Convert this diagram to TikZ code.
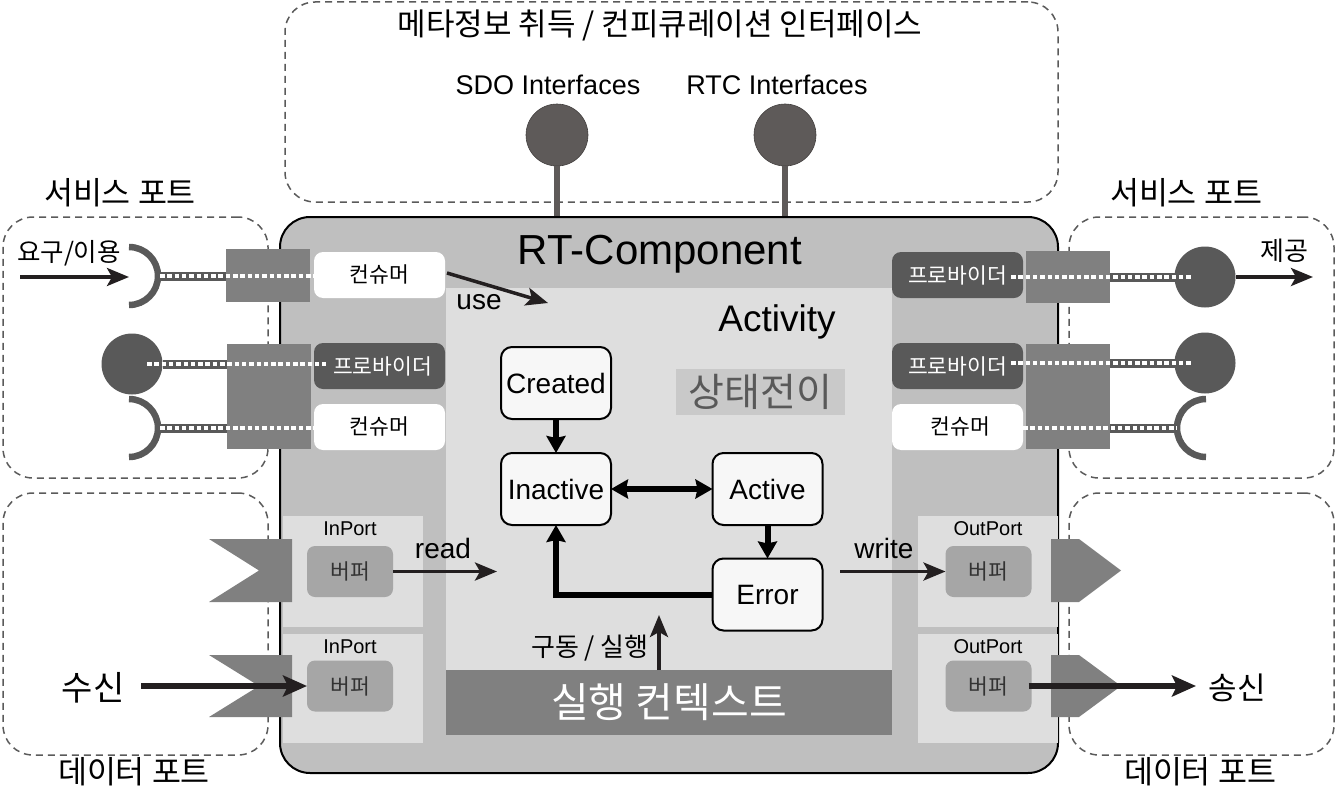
\documentclass[tikz,border=0pt]{standalone}
\usepackage{fontspec}
\setmainfont{Liberation Sans}
\newfontfamily\kr{Noto Sans CJK KR}
\usetikzlibrary{arrows.meta}
\newcommand\fsz[1]{\fontsize{#1pt}{#1pt}\selectfont}
\definecolor{mainfill}{HTML}{BFBFBF}
\definecolor{lightfill}{HTML}{DEDEDE}
\definecolor{portgray}{HTML}{808080}
\definecolor{darkc}{HTML}{595959}
\definecolor{bufgray}{HTML}{A6A6A6}
\definecolor{statefill}{HTML}{F7F7F7}
\definecolor{lollic}{HTML}{5E5A59}
\definecolor{dashc}{HTML}{5A5A5A}
\definecolor{arrowc}{HTML}{231F20}
\definecolor{stbox}{HTML}{C9C9C9}
\begin{document}
\begin{tikzpicture}[x=1pt,y=-1pt,
  every node/.style={inner sep=0pt,outer sep=0pt},
  dashbox/.style={draw=dashc,line width=1.5pt,dash pattern=on 7pt off 5pt,rounded corners=30pt},
  krlab/.style={font=\kr\fsz{#1}},
  enlab/.style={font=\fsz{#1}},
  lolli/.style={circle,fill=lollic,draw=lollic!70!black,line width=0.6pt,minimum size=62pt},
  stick/.style={draw=lollic,line width=6pt},
  lightbox/.style={fill=lightfill},
  buf/.style={fill=bufgray,rounded corners=8pt,minimum width=86pt,minimum height=51pt,font=\kr\fsz{21.5},text=black!80},
  psq/.style={fill=portgray,minimum width=84pt},
  consbox/.style={fill=white,rounded corners=9pt,minimum width=131pt,minimum height=46pt,font=\kr\fsz{21.5}},
  provbox/.style={fill=darkc,rounded corners=9pt,minimum width=131pt,minimum height=46pt,font=\kr\fsz{21.5},text=white},
  pcircle/.style={circle,fill=darkc,minimum size=61pt},
  sock/.style={draw=darkc,line width=6.5pt},
  darkbar/.style={draw=darkc,line width=9pt},
  wdots/.style={draw=white,line width=4.5pt,dash pattern=on 4.5pt off 2.8pt},
  statebox/.style={draw=black,line width=2pt,fill=statefill,rounded corners=11pt,minimum width=110pt,minimum height=72pt,font=\fsz{28}},
  sarrow/.style={draw=black,line width=6pt,-{Stealth[length=17pt,width=19pt,inset=2pt]}},
  tarrow/.style={draw=arrowc,line width=3.5pt,-{Stealth[length=22pt,width=18pt,inset=5pt]}},
  bigarrow/.style={draw=arrowc,line width=5.5pt,-{Stealth[length=24pt,width=21pt,inset=5pt]}}
]
\useasboundingbox (0,0) rectangle (1336,800);

% dashed regions
\node[dashbox,minimum width=773pt,minimum height=200pt] (metabox) at (671.5,102) {};
\node[dashbox,minimum width=265pt,minimum height=261pt] (svcL) at (135.5,347.5) {};
\node[dashbox,minimum width=265pt,minimum height=262pt] (datL) at (135.5,624) {};
\node[dashbox,minimum width=265pt,minimum height=261pt] (svcR) at (1201.5,347.5) {};
\node[dashbox,minimum width=265pt,minimum height=262pt] (datR) at (1201.5,624) {};

% labels of regions
\node[krlab=31] (metatitle) at (660,25) {메타정보 취득 / 컨피큐레이션 인터페이스};
\node[enlab=27] (sdolab) at (548,85) {SDO Interfaces};
\node[enlab=27] (rtclab) at (777,85) {RTC Interfaces};
\node[krlab=31.5] (svcLlab) at (120,193) {서비스 포트};
\node[krlab=31.5] (svcRlab) at (1186,193) {서비스 포트};
\node[krlab=31.5] (datLlab) at (134,772) {데이터 포트};
\node[krlab=31.5] (datRlab) at (1200,772) {데이터 포트};

% lollipops
\node[lolli] (sdoc) at (557,135) {};
\node[lolli] (rtcc) at (785,135) {};
\coordinate (sdofoot) at (557,220);
\coordinate (rtcfoot) at (785,220);
\draw[stick] (sdoc.south) -- (sdofoot);
\draw[stick] (rtcc.south) -- (rtcfoot);

% main component
\node[draw=black,line width=2pt,fill=mainfill,rounded corners=30pt,minimum width=778pt,minimum height=556pt] (rtcbox) at (669,495) {};
\node[lightbox,minimum width=446pt,minimum height=447pt] (actarea) at (669,511.5) {};
\node[enlab=42] (rtctitle) at (660,254) {RT-Component};
\node[enlab=37] (actlab) at (777,322) {Activity};
\node[fill=stbox,minimum width=169pt,minimum height=46pt,font=\kr\fsz{39},text=black!65] (stlab) at (760.5,392) {상태전이};

% in / out port areas
\node[lightbox,minimum width=140pt,minimum height=111pt] (inp1) at (353,571.5) {};
\node[lightbox,minimum width=140pt,minimum height=109pt] (inp2) at (353,688.5) {};
\node[lightbox,minimum width=140pt,minimum height=111pt] (outp1) at (988,571.5) {};
\node[lightbox,minimum width=140pt,minimum height=109pt] (outp2) at (988,688.5) {};
\node[enlab=20] (inp1lab) at (350,529) {InPort};
\node[enlab=20] (inp2lab) at (350,647) {InPort};
\node[enlab=20] (outp1lab) at (988,529) {OutPort};
\node[enlab=20] (outp2lab) at (988,647) {OutPort};
\node[buf] (ibuf1) at (350,571.5) {버퍼};
\node[buf] (ibuf2) at (350,686) {버퍼};
\node[buf] (obuf1) at (988.5,571.5) {버퍼};
\node[buf] (obuf2) at (988.5,686) {버퍼};

% data port flags
\fill[portgray] (209,539) -- (292,539) -- (292,602) -- (209,602) -- (259,570.5) -- cycle;
\fill[portgray] (209,655) -- (292,655) -- (292,717) -- (209,717) -- (259,686) -- cycle;
\fill[portgray] (1051,539) -- (1079,539) -- (1121,570.5) -- (1079,602) -- (1051,602) -- cycle;
\fill[portgray] (1051,655) -- (1079,655) -- (1121,686) -- (1079,717) -- (1051,717) -- cycle;

% execution context
\node[fill=portgray,minimum width=446pt,minimum height=65pt,text=white,font=\kr\fsz{41}] (exec) at (669,702.5) {실행 컨텍스트};

% states
\node[statebox] (created) at (556,383) {Created};
\node[statebox] (inactive) at (556,489) {Inactive};
\node[statebox] (active) at (767.5,489) {Active};
\node[statebox] (error) at (767.5,594.5) {Error};
\draw[sarrow] (created) -- (inactive);
\draw[sarrow,{Stealth[length=17pt,width=19pt,inset=2pt]}-{Stealth[length=17pt,width=19pt,inset=2pt]}] (inactive) -- (active);
\draw[sarrow] (active) -- (error);
\draw[sarrow] (error.west) -| (inactive.south);

% drive arrow
\coordinate (drvtip) at (659,615);
\draw[tarrow] (exec.north -| drvtip) -- (drvtip);
\node[krlab=26] (drvlab) at (590,648) {구동 / 실행};

% read / write
\coordinate (readtip) at (497,571.5);
\draw[tarrow] (ibuf1.east) -- (readtip);
\node[enlab=28] (readlab) at (443,548) {read};
\coordinate (writestart) at (840,571.5);
\draw[tarrow] (writestart) -- (obuf1.west);
\node[enlab=28] (writelab) at (884,548) {write};

% receive / send
\node[krlab=34] (rxlab) at (93,688) {수신};
\coordinate (rxstart) at (141,686);
\draw[bigarrow] (rxstart) -- (ibuf2.west);
\node[krlab=31] (txlab) at (1237,688) {송신};
\coordinate (txtip) at (1196,686);
\draw[bigarrow] ([xshift=-3pt]obuf2.east) -- (txtip);

% left service ports
\node[psq,minimum height=53pt] (lsq1) at (268,275.5) {};
\node[psq,minimum height=105pt] (lsq2) at (269,396.5) {};
\node[consbox] (lcons1) at (379.5,275) {컨슈머};
\node[provbox] (lprov) at (379.5,366) {\hspace{6pt}프로바이더};
\node[consbox] (lcons2) at (379.5,427) {컨슈머};
\coordinate (lsock1c) at (129,276);
\coordinate (lsock2c) at (129,428);
\node[pcircle] (lprovc) at (132,364) {};
\draw[sock] ([yshift=29pt]lsock1c) arc[start angle=90,end angle=-90,radius=29pt];
\draw[sock] ([yshift=29pt]lsock2c) arc[start angle=90,end angle=-90,radius=29pt];
\draw[darkbar] ([xshift=29pt]lsock1c) -- (lsq1.west |- lsock1c);
\draw[darkbar] (lprovc.east) -- (lsq2.west |- lprovc);
\draw[darkbar] ([xshift=29pt]lsock2c) -- (lsq2.west |- lsock2c);
\draw[wdots] ([xshift=31pt]lsock1c) -- (lcons1.west |- lsock1c);
\draw[wdots] ([xshift=15pt]lprovc.center) -- ([xshift=12pt]lprov.west |- lprovc);
\draw[wdots] ([xshift=31pt]lsock2c) -- (lcons2.west |- lsock2c);
\coordinate (reqstart) at (20,277);
\draw[tarrow] (reqstart) -- ([yshift=-1pt]lsock1c);
\node[krlab=25.5] (reqlab) at (69,253) {요구/이용};
\coordinate (usetip) at (548,303);
\draw[tarrow] ([xshift=2pt,yshift=2pt]lcons1.east) -- (usetip);
\node[enlab=28] (uselab) at (479,302) {use};

% right service ports
\node[psq,minimum height=52pt] (rsq1) at (1068,277) {};
\node[psq,minimum height=105pt] (rsq2) at (1068,396.5) {};
\node[provbox] (rprov1) at (957.5,275) {프로바이더\hspace{8pt}};
\node[provbox] (rprov2) at (957.5,366) {프로바이더\hspace{8pt}};
\node[consbox] (rcons) at (957.5,427) {\hspace{6pt}컨슈머};
\node[pcircle] (rc1) at (1205,277) {};
\node[pcircle] (rc2) at (1205,363) {};
\coordinate (rsockc) at (1206,428);
\draw[sock] ([yshift=29pt]rsockc) arc[start angle=90,end angle=270,radius=29pt];
\draw[darkbar] (rsq1.east |- rc1) -- (rc1.west);
\draw[darkbar] (rsq2.east |- rc2) -- (rc2.west);
\draw[darkbar] (rsq2.east |- rsockc) -- ([xshift=-29pt]rsockc);
\draw[wdots] ([xshift=-12pt]rprov1.east |- rc1) -- ([xshift=-13pt]rc1.center);
\draw[wdots] ([xshift=-12pt]rprov2.east |- rc2) -- ([xshift=-13pt]rc2.center);
\draw[wdots] (rcons.east |- rsockc) -- ([xshift=-29pt]rsockc);
\coordinate (provtip) at (1313,277);
\draw[tarrow] (rc1.east) -- (provtip);
\node[krlab=26] (provlab) at (1284,251) {제공};
\end{tikzpicture}
\end{document}
